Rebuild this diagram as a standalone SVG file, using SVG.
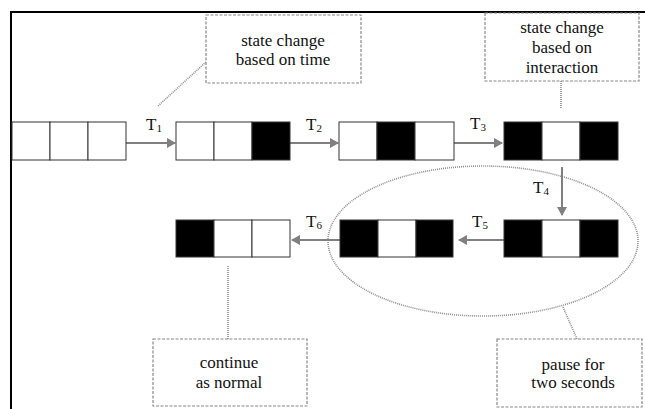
<svg xmlns="http://www.w3.org/2000/svg" width="645" height="409" viewBox="0 0 645 409">
<style>
.cell{fill:#fff;stroke:#333;stroke-width:1}
.blk{fill:#000;stroke:#333;stroke-width:1}
.arr{stroke:#808080;stroke-width:2;fill:none}
.note{fill:#fff;stroke:#888;stroke-width:1.2;stroke-dasharray:3 1.5}
.dot{stroke:#8c8c8c;stroke-width:1.6;stroke-dasharray:1 1;fill:none}
.txt{font-family:"Liberation Serif","Times New Roman",serif;font-size:17px;fill:#111;text-anchor:middle}
.lbl{font-family:"Liberation Serif","Times New Roman",serif;font-size:17px;fill:#111}
.sub{font-size:11px}
</style>
<defs>
<marker id="ah" markerWidth="10" markerHeight="10" refX="8" refY="5" orient="auto" markerUnits="userSpaceOnUse">
<path d="M0,0 L9,5 L0,10 z" fill="#808080"/>
</marker>
</defs>
<rect width="645" height="409" fill="#fff"/>
<g id="frame">
<line x1="10" y1="12" x2="645" y2="12" stroke="#000" stroke-width="2"/>
<line x1="11" y1="11" x2="11" y2="409" stroke="#000" stroke-width="2"/>
</g>
<g id="ellipse-pause">
<ellipse cx="483" cy="241" rx="155" ry="75" class="dot"/>
</g>
<g id="connectors">
<line x1="126" y1="143" x2="175" y2="143" class="arr" marker-end="url(#ah)"/>
<line x1="290" y1="143" x2="338" y2="143" class="arr" marker-end="url(#ah)"/>
<line x1="454" y1="143" x2="502" y2="143" class="arr" marker-end="url(#ah)"/>
<line x1="562" y1="167" x2="562" y2="215" class="arr" marker-end="url(#ah)"/>
<line x1="504" y1="240" x2="459" y2="240" class="arr" marker-end="url(#ah)"/>
<line x1="340" y1="240" x2="292" y2="240" class="arr" marker-end="url(#ah)"/>
<line x1="206" y1="62" x2="158" y2="106" class="dot"/>
<line x1="561" y1="81" x2="561" y2="108" class="dot"/>
<line x1="228" y1="266" x2="228" y2="339" class="dot"/>
<line x1="563" y1="307" x2="577" y2="339" class="dot"/>
</g>
<g id="labels">
<text x="146" y="130" class="lbl">T<tspan class="sub" dy="2">1</tspan></text>
<text x="306" y="130" class="lbl">T<tspan class="sub" dy="2">2</tspan></text>
<text x="470" y="129" class="lbl">T<tspan class="sub" dy="2">3</tspan></text>
<text x="533" y="193" class="lbl">T<tspan class="sub" dy="2">4</tspan></text>
<text x="472" y="227" class="lbl">T<tspan class="sub" dy="2">5</tspan></text>
<text x="306" y="227" class="lbl">T<tspan class="sub" dy="2">6</tspan></text>
</g>
<g id="state1">
<rect x="12" y="122" width="38" height="38" class="cell"/>
<rect x="50" y="122" width="38" height="38" class="cell"/>
<rect x="88" y="122" width="38" height="38" class="cell"/>
</g>
<g id="state2">
<rect x="176" y="122" width="38" height="38" class="cell"/>
<rect x="214" y="122" width="38" height="38" class="cell"/>
<rect x="252" y="122" width="38" height="38" class="blk"/>
</g>
<g id="state3">
<rect x="339" y="122" width="38" height="38" class="cell"/>
<rect x="377" y="122" width="38" height="38" class="blk"/>
<rect x="415" y="122" width="39" height="38" class="cell"/>
</g>
<g id="state4">
<rect x="504" y="122" width="38" height="38" class="blk"/>
<rect x="542" y="122" width="38" height="38" class="cell"/>
<rect x="580" y="122" width="38" height="38" class="blk"/>
</g>
<g id="state5">
<rect x="504" y="220" width="38" height="37" class="blk"/>
<rect x="542" y="220" width="38" height="37" class="cell"/>
<rect x="580" y="220" width="38" height="37" class="blk"/>
</g>
<g id="state6">
<rect x="340" y="220" width="38" height="37" class="blk"/>
<rect x="378" y="220" width="38" height="37" class="cell"/>
<rect x="416" y="220" width="37" height="37" class="blk"/>
</g>
<g id="state7">
<rect x="176" y="220" width="38" height="37" class="blk"/>
<rect x="214" y="220" width="38" height="37" class="cell"/>
<rect x="252" y="220" width="38" height="37" class="cell"/>
</g>
<g id="note-time">
<rect x="206" y="15" width="155" height="68" class="note"/>
<text x="283" y="46" class="txt">state change</text>
<text x="283" y="65" class="txt">based on time</text>
</g>
<g id="note-interaction">
<rect x="485" y="13" width="154" height="68" class="note"/>
<text x="562" y="33" class="txt">state change</text>
<text x="562" y="53" class="txt">based on</text>
<text x="562" y="73" class="txt">interaction</text>
</g>
<g id="note-continue">
<rect x="153" y="339" width="154" height="67" class="note"/>
<text x="229" y="368" class="txt">continue</text>
<text x="229" y="388" class="txt">as normal</text>
</g>
<g id="note-pause">
<rect x="497" y="339" width="145" height="68" class="note"/>
<text x="573" y="370" class="txt">pause for</text>
<text x="573" y="388" class="txt">two seconds</text>
</g>
</svg>
